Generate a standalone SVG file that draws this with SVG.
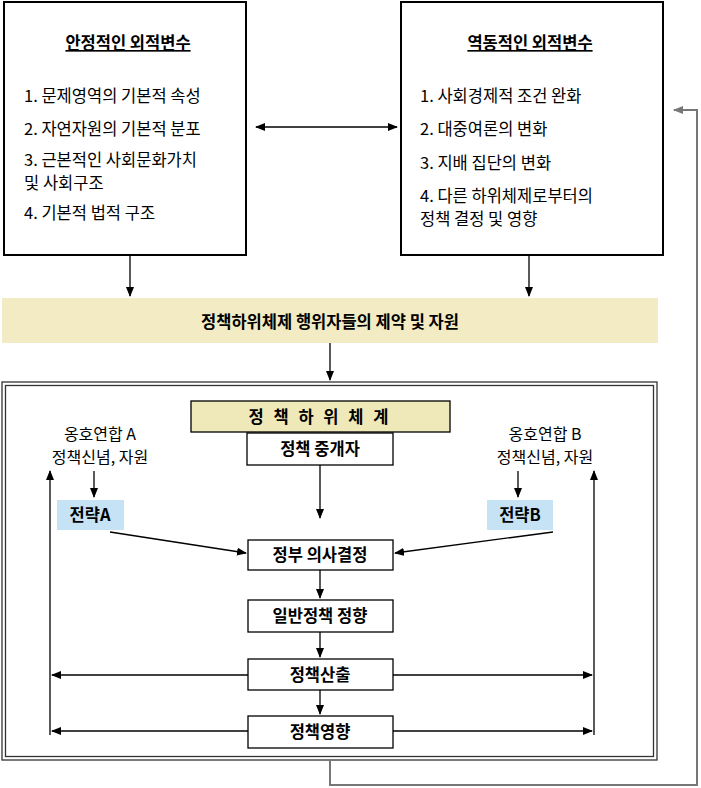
<svg xmlns="http://www.w3.org/2000/svg" width="701" height="788" viewBox="0 0 701 788">
<style>
text{font-family:"Noto Sans CJK KR","Noto Sans",sans-serif;fill:#000}
.t{font-size:16.5px}
.b{font-size:16.5px;font-weight:bold;text-anchor:middle}
.c{font-size:16px;text-anchor:middle}
.bx{fill:#fff;stroke:#000;stroke-width:1.3}
.ln{stroke:#000;stroke-width:1.3;fill:none}
</style>
<defs>
<marker id="a" markerWidth="10" markerHeight="8" refX="9" refY="4" orient="auto-start-reverse" markerUnits="userSpaceOnUse"><path d="M0,0L10,4L0,8z" fill="#000"/></marker>
<marker id="g" markerWidth="10" markerHeight="8" refX="9" refY="4" orient="auto" markerUnits="userSpaceOnUse"><path d="M0,0L10,4L0,8z" fill="#777"/></marker>
</defs>
<g id="stable">
<rect x="4" y="2" width="242" height="253" fill="#fff" stroke="#000" stroke-width="2"/>
<text x="128" y="49" class="b" text-decoration="underline">안정적인 외적변수</text>
<text x="24" y="102" class="t">1. 문제영역의 기본적 속성</text>
<text x="24" y="135" class="t">2. 자연자원의 기본적 분포</text>
<text x="24" y="166" class="t">3. 근본적인 사회문화가치</text>
<text x="24" y="189" class="t">및 사회구조</text>
<text x="24" y="219" class="t">4. 기본적 법적 구조</text>
</g>
<g id="dynamic">
<rect x="401" y="2" width="262" height="253" fill="#fff" stroke="#000" stroke-width="2"/>
<text x="530" y="49" class="b" text-decoration="underline">역동적인 외적변수</text>
<text x="420" y="102" class="t">1. 사회경제적 조건 완화</text>
<text x="420" y="135" class="t">2. 대중여론의 변화</text>
<text x="420" y="169" class="t">3. 지배 집단의 변화</text>
<text x="420" y="202" class="t">4. 다른 하위체제로부터의</text>
<text x="420" y="225" class="t">정책 결정 및 영향</text>
</g>
<g id="constraints">
<rect x="2" y="298" width="656" height="45" fill="#f2ebc4"/>
<text x="330" y="328" class="b" font-size="17.5">정책하위체제 행위자들의 제약 및 자원</text>
</g>
<g id="frame">
<rect x="2" y="382" width="655" height="378" fill="none" stroke="#333" stroke-width="1.3"/>
<rect x="5.5" y="385.5" width="648" height="371" fill="none" stroke="#333" stroke-width="1.3"/>
</g>
<g id="subsystem">
<rect x="191" y="401" width="259" height="31" fill="#efe8b8" stroke="#000" stroke-width="1.3"/>
<text x="320" y="423" class="b" letter-spacing="3">정 책  하 위 체 계</text>
</g>
<g id="broker"><rect x="247" y="433" width="146" height="32" class="bx"/><text x="320" y="455" class="b">정책 중개자</text></g>
<g id="coalA"><text x="100" y="440" class="c">옹호연합 A</text><text x="100" y="463" class="c">정책신념, 자원</text></g>
<g id="coalB"><text x="545" y="440" class="c">옹호연합 B</text><text x="545" y="463" class="c">정책신념, 자원</text></g>
<g id="stratA"><rect x="57" y="500" width="67" height="30" fill="#c5e3f5"/><text x="90" y="521" class="b">전략A</text></g>
<g id="stratB"><rect x="487" y="500" width="66" height="30" fill="#c5e3f5"/><text x="520" y="521" class="b">전략B</text></g>
<g id="gov"><rect x="248" y="540" width="145" height="30" class="bx"/><text x="320" y="561" class="b">정부 의사결정</text></g>
<g id="orient"><rect x="248" y="600" width="145" height="32" class="bx"/><text x="320" y="622" class="b">일반정책 정향</text></g>
<g id="output"><rect x="248" y="659" width="145" height="31" class="bx"/><text x="320" y="681" class="b">정책산출</text></g>
<g id="impact"><rect x="248" y="716" width="145" height="32" class="bx"/><text x="320" y="738" class="b">정책영향</text></g>
<g id="connectors">
<line x1="256" y1="127" x2="397" y2="127" class="ln" marker-start="url(#a)" marker-end="url(#a)"/>
<line x1="130" y1="255" x2="130" y2="296" class="ln" marker-end="url(#a)"/>
<line x1="529" y1="255" x2="529" y2="296" class="ln" marker-end="url(#a)"/>
<line x1="330" y1="343" x2="330" y2="380" class="ln" marker-end="url(#a)"/>
<line x1="320" y1="465" x2="320" y2="518" class="ln" marker-end="url(#a)"/>
<line x1="94" y1="471" x2="94" y2="497" class="ln" marker-end="url(#a)"/>
<line x1="518" y1="471" x2="518" y2="497" class="ln" marker-end="url(#a)"/>
<line x1="110" y1="532" x2="246" y2="553" class="ln" marker-end="url(#a)"/>
<line x1="553" y1="532" x2="395" y2="553" class="ln" marker-end="url(#a)"/>
<line x1="320" y1="570" x2="320" y2="598" class="ln" marker-end="url(#a)"/>
<line x1="320" y1="632" x2="320" y2="657" class="ln" marker-end="url(#a)"/>
<line x1="320" y1="690" x2="320" y2="714" class="ln" marker-end="url(#a)"/>
<line x1="248" y1="675" x2="52" y2="675" class="ln" marker-end="url(#a)"/>
<line x1="248" y1="731" x2="52" y2="731" class="ln" marker-end="url(#a)"/>
<line x1="393" y1="675" x2="592" y2="675" class="ln" marker-end="url(#a)"/>
<line x1="393" y1="731" x2="592" y2="731" class="ln" marker-end="url(#a)"/>
<line x1="50" y1="735" x2="50" y2="471" class="ln" marker-end="url(#a)"/>
<line x1="594" y1="735" x2="594" y2="471" class="ln" marker-end="url(#a)"/>
<polyline points="330,760 330,785 697,785 697,110 674,110" fill="none" stroke="#777" stroke-width="2" marker-end="url(#g)"/>
</g>
</svg>
